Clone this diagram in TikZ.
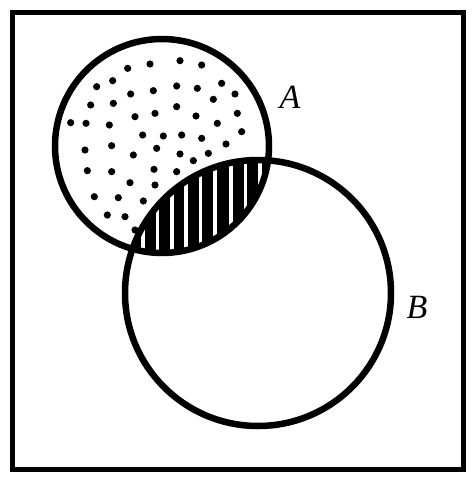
\documentclass[tikz,border=0pt]{standalone}
\usepackage{fontspec}
\setmainfont{Liberation Serif}
\begin{document}
\begin{tikzpicture}[x=1pt,y=-1pt,
  outline/.style={line width=6.5pt,black},
  dotmark/.style={fill=black},
  lbl/.style={font=\fontsize{34}{38}\selectfont\itshape,inner sep=0pt}]
\useasboundingbox (0,0) rectangle (474,480);
\coordinate (ca) at (162,146);
\coordinate (cb) at (258,293);
% dots in A only
\foreach \x/\y in {383/205,450/192,540/182,605/195,
290/260,338/242,392/282,460/272,530/258,592/265,665/250,705/282,
272/315,340/310,405/350,465/340,530/320,588/348,640/298,712/340,
212/368,258/370,328/375,428/405,490/408,545/405,605/415,652/370,725/395,
255/450,335/437,400/465,470/445,540/462,580/482,625/460,678/432,
262/512,335/515,462/508,530/515,
390/548,465/555,
283/590,355/593,430/603,
322/645,375/650,
405/690}
  \fill[dotmark] (\x/3,\y/3) circle (3.6);
% lens
\begin{scope}
  \clip (ca) circle (107);
  \clip (cb) circle (133);
  \fill[black] (cb) circle (133);
  \foreach \x in {143,157.5,172,186,200.5,215,231,245.5,260}
    \draw[white,line width=3.5pt] (\x,150) -- (\x,262);
\end{scope}
% outlines
\draw[outline] (ca) circle (107);
\draw[outline] (cb) circle (133);
\draw[line width=5pt] (12,12) rectangle (463,469);
\node[lbl] (la) at (290,97) {A};
\node[lbl] (lb) at (417,307) {B};
\end{tikzpicture}
\end{document}
